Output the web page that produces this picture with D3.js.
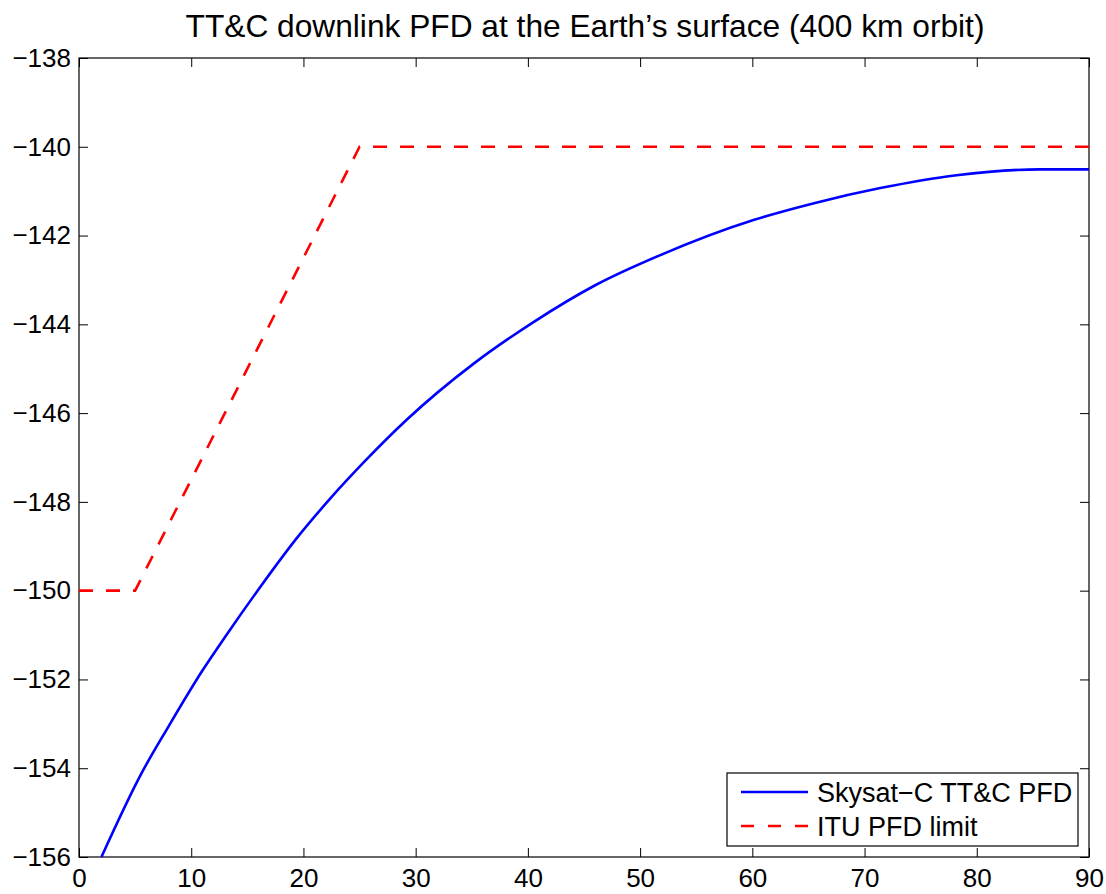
<!DOCTYPE html>
<html>
<head>
<meta charset="utf-8">
<script src="https://cdn.jsdelivr.net/npm/d3@7"></script>
<style>
  body { margin: 0; background: #fff; }
  svg { display: block; font-family: "Liberation Sans", Arial, sans-serif; }
</style>
</head>
<body>
<div id="chart"></div>
<script>
// Skysat-C TT&C PFD curve (elevation deg, dBW/m2/4kHz)
const skysatX = [2, 5.6, 8, 11, 13, 16.2, 19.3, 22.3, 25.6, 29.2, 35.2, 40.5, 46, 51.8, 60.1, 65.5, 71.4, 78.2, 85.6, 90];
const skysatY = [-156, -154.1, -153.05, -151.8, -151.05, -149.9, -148.85, -147.95, -147.05, -146.15, -144.88, -143.95, -143.12, -142.44, -141.65, -141.27, -140.93, -140.64, -140.51, -140.51];

// ITU limit
const ituX = [0, 5, 25, 90];
const ituY = [-150, -150, -140, -140];

const xTicks = [0, 10, 20, 30, 40, 50, 60, 70, 80, 90];
const yTicks = [-138, -140, -142, -144, -146, -148, -150, -152, -154, -156];

const W = 1106, H = 894;
const m = { top: 58, right: 17, bottom: 37, left: 79 };
const w = W - m.left - m.right, h = H - m.top - m.bottom;

const svg = d3.select('#chart').append('svg').attr('width', W).attr('height', H);

svg.append('text').attr('x', m.left + w / 2 + 1).attr('y', 37)
  .attr('text-anchor', 'middle').attr('font-size', '31.7px').attr('fill', '#000')
  .text('TT&C downlink PFD at the Earth’s surface (400 km orbit)');

const g = svg.append('g').attr('transform', `translate(${m.left},${m.top})`);

const x = d3.scaleLinear().domain([0, 90]).range([0, w]);
const y = d3.scaleLinear().domain([-156, -138]).range([h, 0]);

const fmtMinus = d => String(d).replace('-', '\u2212');

// axes: ticks inward, on all four sides
const styleAxis = sel => {
  sel.select('.domain').remove();
  sel.selectAll('.tick line').attr('stroke', '#000').attr('stroke-width', 1);
  sel.selectAll('text').attr('fill', '#000').attr('font-size', '26px')
    .attr('font-family', '"Liberation Sans", Arial, sans-serif');
};

g.append('g').attr('transform', `translate(0,${h})`)
  .call(d3.axisBottom(x).tickValues(xTicks).tickSizeInner(-9).tickSizeOuter(0).tickPadding(12).tickFormat(d => d))
  .call(styleAxis);
g.append('g')
  .call(d3.axisTop(x).tickValues(xTicks).tickSizeInner(-9).tickSizeOuter(0).tickFormat(''))
  .call(styleAxis);
g.append('g')
  .call(d3.axisLeft(y).tickValues(yTicks).tickSizeInner(-9).tickSizeOuter(0).tickPadding(8).tickFormat(fmtMinus))
  .call(styleAxis);
g.append('g').attr('transform', `translate(${w},0)`)
  .call(d3.axisRight(y).tickValues(yTicks).tickSizeInner(-9).tickSizeOuter(0).tickFormat(''))
  .call(styleAxis);

g.append('rect').attr('x', 0).attr('y', 0).attr('width', w).attr('height', h)
  .attr('fill', 'none').attr('stroke', '#000').attr('stroke-width', 1.2);

const line = d3.line().x(d => x(d[0])).y(d => y(d[1]));

g.append('path').datum(ituX.map((v, i) => [v, ituY[i]]))
  .attr('d', line).attr('fill', 'none').attr('stroke', '#ff0000')
  .attr('stroke-width', 2.6).attr('stroke-dasharray', '14,13');

g.append('path').datum(skysatX.map((v, i) => [v, skysatY[i]]))
  .attr('d', line.curve(d3.curveMonotoneX)).attr('fill', 'none').attr('stroke', '#0000ff')
  .attr('stroke-width', 2.6);

// legend
const lg = svg.append('g').attr('transform', 'translate(727,773)');
lg.append('rect').attr('width', 351).attr('height', 73)
  .attr('fill', '#fff').attr('stroke', '#000').attr('stroke-width', 1.2);
const items = [
  { name: 'Skysat\u2212C TT&C PFD', color: '#0000ff', dash: null },
  { name: 'ITU PFD limit', color: '#ff0000', dash: '13,14' }
];
items.forEach((d, i) => {
  const yy = 19 + i * 34;
  lg.append('line').attr('x1', 14).attr('x2', 81).attr('y1', yy).attr('y2', yy)
    .attr('stroke', d.color).attr('stroke-width', 2.6).attr('stroke-dasharray', d.dash);
  lg.append('text').attr('x', 90).attr('y', yy + 10).attr('font-size', '27px').attr('fill', '#000')
    .text(d.name);
});
</script>
</body>
</html>
